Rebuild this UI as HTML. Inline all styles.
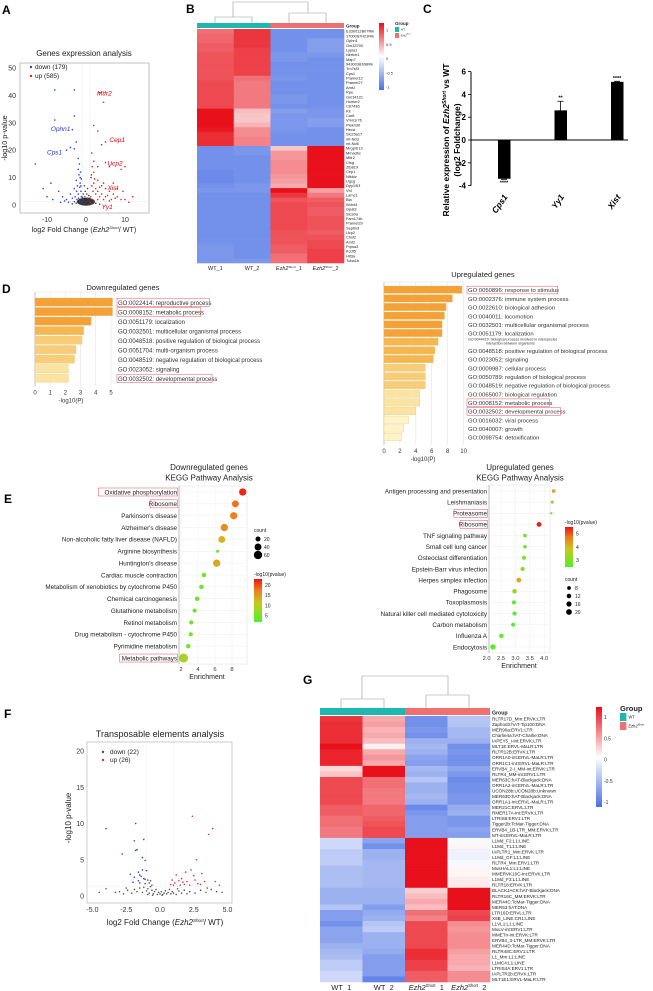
<!DOCTYPE html>
<html><head><meta charset="utf-8"><style>
html,body{margin:0;padding:0;background:#fff;}
svg{display:block;font-family:"Liberation Sans",Arial,sans-serif;}
</style></head><body>
<svg id="fig" width="653" height="991" viewBox="0 0 653 991" xmlns="http://www.w3.org/2000/svg">
<g font-weight="bold" font-size="12" fill="#000">
<text x="2" y="14">A</text>
<text x="186" y="13">B</text>
<text x="423" y="13">C</text>
<text x="2" y="293">D</text>
<text x="4" y="503">E</text>
<text x="4" y="718">F</text>
<text x="303" y="684">G</text>
</g>
</svg>
<script>
const NS='http://www.w3.org/2000/svg';
const svg=document.getElementById('fig');
function mk(tag,a,p){const e=document.createElementNS(NS,tag);for(const k in a)e.setAttribute(k,a[k]);(p||svg).appendChild(e);return e;}
function tx(x,y,s,a,p){const e=mk('text',Object.assign({x:x,y:y},a||{}),p);e.textContent=s;return e;}

// ===== Panel A data =====
const aBlue=[[-8,42],[-3,42],[-8,31],[-3,32.5],[-3.5,27.5],[-2.5,23],[-4,21],[-5,20],[-3,20.5],[-13,15],[-9,8],[-7,5],[-6,3],[-5,2],[-4,4],[-3,6],[-2.5,9],[-2,13],[-1.8,11],[-1.5,8],[-1.3,5],[-1.2,3],[-2,4],[-2.3,2],[-1.6,1.5],[-3,1.2],[-4.5,1],[-5.5,1.5],[-2.8,3],[-1.4,12],[-1.7,15],[-2,17],[-1.2,9.5],[-1.6,6.5],[-2.2,7],[-10,3],[-8.5,2],[-11,6],[-1.1,1.2],[-1.9,2.5],[-1.3,7],[-1.5,10],[-2.4,5],[-3.5,2.5],[-6.5,1]];
const aRed=[[3.5,41],[4.5,37.5],[2,29],[3,27],[5,23],[4,22],[1.5,19],[2,16],[3,14],[6,14],[5,15.5],[10,14],[9,13],[2,12],[1.3,10],[1.5,7],[2,8],[3,9],[4,7],[5,6],[6,5],[7,4],[8,3],[9,2],[10,2],[11,1],[1.2,3],[1.5,2],[2.5,4],[3.5,3],[4.5,2],[5.5,3.5],[6.5,2],[1.8,5],[2.5,6],[3,5],[3.5,6.5],[4,4],[7,8],[8,6],[12,3],[1.1,1],[2,1.3],[6,1.5],[9.5,5],[1.4,11],[2.2,9.5],[4.5,8],[5,3],[3,2],[1.6,14],[7.5,2.5]];
const aGrey=[[-0.8,2],[-0.5,1.5],[0,1],[0.5,1.8],[0.8,2.5],[-0.3,3],[0.2,4],[-0.6,0.5],[0.6,0.4],[1,0.7],[-1,0.8],[0.3,2.5],[-0.2,5],[0.7,3.5],[-0.7,4],[0,0.3],[1.5,0.5],[-1.5,0.4],[2.5,0.6],[-2.5,0.7],[3.5,0.3],[-3.5,0.4],[0.4,6],[-0.4,7],[-0.9,2.8]];
const aLabels=[['Mtfr2',2.8,40,'#d00'],['Ophn1',-9,27,'#2233cc'],['Cps1',-10,18.5,'#2233cc'],['Cep1',6,23,'#d00'],['Ucp2',5.5,14.5,'#d00'],['Xist',5.5,5.5,'#d00'],['Yy1',4,-1.5,'#d00']];
const aYTicks=[0,10,20,30,40,50];
const aXTicks=[-10,0,10];
(function(){
 const g=mk('g',{});
 
 
 const X=v=>86+v*3.9, Y=v=>205-v*2.74;
 const t=tx(84,56,'Genes expression analysis',{'font-size':8,'text-anchor':'middle',fill:'#222'},g);
 
 
 const b=mk('rect',{x:20,y:63,width:129,height:150,fill:'none',stroke:'#999','stroke-width':0.6},g);
 
 
 [X(-1),X(1)].forEach(x=>mk('line',{x1:x,x2:x,y1:63,y2:213,stroke:'#ccc','stroke-width':0.4,'stroke-dasharray':'1,1'},g));
 mk('line',{x1:20,x2:149,y1:Y(1.3),y2:Y(1.3),stroke:'#ccc','stroke-width':0.4,'stroke-dasharray':'1,1'},g);
 aYTicks.forEach(v=>{const e=tx(16,Y(v)+2.5,String(v),{'font-size':7,'text-anchor':'end',fill:'#333'},g);
  
  });
 aXTicks.forEach(v=>{const e=tx(X(v),222,String(v),{'font-size':7,'text-anchor':'middle',fill:'#333'},g);
  
  });
 const xl=tx(84,232,'',{'font-size':7.2,'text-anchor':'middle',fill:'#222'},g);
 xl.innerHTML='log2 Fold Change (<tspan font-style="italic">Ezh2</tspan><tspan font-size="4" dy="-3" font-style="italic">Short</tspan><tspan dy="3">/ WT)</tspan>';
 
 
 const yl=tx(0,0,'-log10 p-value',{'font-size':7.2,'text-anchor':'middle',fill:'#222',transform:'translate(7,138) rotate(-90)'},g);
 
 
 const blob=mk('ellipse',{cx:X(0),cy:Y(1.2),rx:9,ry:4,fill:'#333'},g);
 
 
 aGrey.forEach(p=>{const c=mk('circle',{cx:X(p[0]),cy:Y(p[1]),r:0.8,fill:'#444'},g);
  
  });
 aBlue.forEach(p=>{const c=mk('circle',{cx:X(p[0]),cy:Y(p[1]),r:0.8,fill:'#2a3fd6'},g);
  
  });
 aRed.forEach(p=>{const c=mk('circle',{cx:X(p[0]),cy:Y(p[1]),r:0.8,fill:'#e02020'},g);
  
  });
 aLabels.forEach(l=>{const e=tx(X(l[1]),Y(l[2]),l[0],{'font-size':6.5,'font-style':'italic',fill:l[3]},g);
  
  });
 const lg=[['down (179)','#2a3fd6',69],['up (585)','#e02020',78]];
 lg.forEach(l=>{const c=mk('circle',{cx:31,cy:l[2]-2,r:1.2,fill:l[1]},g);
  
  
  const e=tx(35,l[2],l[0],{'font-size':6.5,fill:'#222'},g);
  
  });
})();

// ===== Heatmap shared =====
function heat(v){
 const lerp=(a,b,t)=>Math.round(a+(b-a)*t);
 if(v>=0){const t=Math.min(1,v/1.25);return `rgb(${lerp(255,232,t)},${lerp(255,16,t)},${lerp(255,26,t)})`;}
 const t=Math.min(1,-v/1.1);return `rgb(${lerp(255,74,t)},${lerp(255,112,t)},${lerp(255,228,t)})`;
}

// ===== Panel B data =====
const bGenes=["E330012B07Rik","1700067H21Rik","Ophn1","Gm33700","Lypla1","Nkrtch1","Map7","9430038J08Rik","Tm7sf3","Cps1","Pramel12","Pramel27","Arnt2","Rpe","Gm34121","Homer2","C87436","Kit","Car8","Vmn1r76","Plekh30","Heca","Slc25a17","mt-Nd3","mt-Nd6","Mrgprb13","Mmadhc","Mtfr2","Ctsg","Zfp819","Cep1","Nfkbiz","Ugcg","Dpy19l3","Vhl","Lamc1","Bla","Wdr44","Gpat3","Slc30a","Fam174b","Pramel29","Septin3","Ucp2","Chst2","Arnt2","Prpsa3","Kcdt5","Hif3a","Tuba1b"];
const bWT1=[0.75,0.8,0.8,0.85,0.85,0.9,0.9,0.9,0.9,0.9,0.9,0.95,0.95,0.95,0.95,0.95,0.95,1.3,1.3,1.3,1.25,1.2,1.1,1.1,1.1,-0.85,-0.85,-0.85,-0.85,-0.85,-0.9,-0.9,-0.9,-0.85,-0.8,-0.85,-0.85,-0.85,-0.85,-0.85,-0.85,-0.85,-0.85,-0.85,-0.85,-0.85,-0.8,-0.8,-0.8,-0.8];
const bWT2=[1.05,1.05,1.05,1.05,1.0,1.0,1.0,1.0,1.0,1.0,0.75,0.7,0.7,0.7,0.7,0.7,0.7,0.35,0.3,0.3,0.4,0.6,0.6,0.65,0.65,-0.8,-0.8,-0.85,-0.85,-0.85,-0.85,-0.85,-0.85,-0.8,-0.8,-0.85,-0.85,-0.85,-0.85,-0.85,-0.85,-0.85,-0.85,-0.85,-0.85,-0.85,-0.85,-0.85,-0.85,-0.8];
const bEz1=[-0.85,-0.85,-0.85,-0.85,-0.85,-0.8,-0.8,-0.85,-0.85,-0.85,-0.8,-0.85,-0.85,-0.85,-0.8,-0.8,-0.85,-0.75,-0.8,-0.8,-0.8,-0.8,-0.85,-0.85,-0.85,0.3,0.55,0.55,0.6,0.6,0.6,0.55,0.5,0.45,1.3,1.05,0.9,0.95,0.95,0.95,0.95,0.95,0.95,0.9,0.9,0.9,0.85,0.85,0.75,0.75];
const bEz2=[-0.85,-0.85,-0.75,-0.75,-0.75,-0.8,-0.85,-0.85,-0.85,-0.85,-0.85,-0.85,-0.85,-0.85,-0.85,-0.85,-0.85,-0.8,-0.8,-0.75,-0.75,-0.85,-0.85,-0.85,-0.85,1.3,1.3,1.3,1.3,1.3,1.3,1.3,1.3,1.3,0.5,0.7,0.85,0.9,0.85,0.85,0.9,0.9,0.9,0.85,0.9,0.95,0.95,1.0,1.0,1.0];
const bCols=["WT_1","WT_2","Ezh2","Ezh2"];
const scaleTicks=[1,0.5,0,-0.5,-1];
function drawHeat(cfg){
 const g=mk('g',{});
 
 
 const n=cfg.rows.length, rh=(cfg.y1-cfg.y0)/n, cw=(cfg.x1-cfg.x0)/4;
 // dendrogram
 const d=mk('path',{d:cfg.dendro,fill:'none',stroke:'#999','stroke-width':0.6},g);
 
 
 const gb1=mk('rect',{x:cfg.x0,y:cfg.gy,width:2*cw,height:cfg.gh,fill:'#1fb8b0'},g);
 
 
 const gb2=mk('rect',{x:cfg.x0+2*cw,y:cfg.gy,width:2*cw,height:cfg.gh,fill:'#f07070'},g);
 
 
 const gt=tx(cfg.x1+2,cfg.gy+cfg.gh-0.5,'Group',{'font-size':cfg.fs+0.6,'font-weight':'bold',fill:'#222'},g);
 
 
 cfg.cols.forEach((col,ci)=>{col.forEach((v,ri)=>{
  const r=mk('rect',{x:cfg.x0+ci*cw,y:cfg.y0+ri*rh,width:cw+0.3,height:rh+0.3,fill:heat(v)},g);
  
  });});
 cfg.rows.forEach((s,ri)=>{const e=tx(cfg.x1+2,cfg.y0+(ri+0.8)*rh,s,{'font-size':cfg.fs,fill:'#222'},g);
  
  });
 bCols.forEach((s,ci)=>{const e=tx(cfg.x0+(ci+0.5)*cw,cfg.cy,'',{'font-size':cfg.cfs,'text-anchor':'middle',fill:'#222'},g);
  if(ci<2)e.textContent=s;else e.innerHTML=`<tspan font-style="italic">Ezh2</tspan><tspan font-size="${cfg.cfs*0.55}" dy="-${cfg.cfs*0.4}">Short</tspan><tspan dy="${cfg.cfs*0.4}">_${ci-1}</tspan>`;
  
  });
 // color scale
 const gid=cfg.name+'-grad';
 const defs=mk('defs',{},g);const lgd=mk('linearGradient',{id:gid,x1:0,y1:0,x2:0,y2:1},defs);
 [[0,1.25],[0.5,0],[1,-1.1]].forEach(s=>mk('stop',{offset:s[0],'stop-color':heat(s[1])},lgd));
 const sb=mk('rect',{x:cfg.sx,y:cfg.sy0,width:cfg.sw,height:cfg.sy1-cfg.sy0,fill:`url(#${gid})`},g);
 
 
 const sY=v=>cfg.sy0+(cfg.sy1-cfg.sy0)*(1.25-v)/2.35;
 scaleTicks.forEach(v=>{const e=tx(cfg.sx+cfg.sw+2,sY(v)+1.5,String(v),{'font-size':cfg.sfs,fill:'#333'},g);
  
  });
 const lt=tx(cfg.lx,cfg.ly,'Group',{'font-size':cfg.lfs,'font-weight':'bold',fill:'#222'},g);
 
 
 [['#1fb8b0','WT',0],['#f07070','Ezh2',1]].forEach(l=>{
  const r=mk('rect',{x:cfg.lx,y:cfg.ly+2+l[2]*(cfg.lsw+1),width:cfg.lsw*0.8,height:cfg.lsw,fill:l[0]},g);
  
  
  const e=tx(cfg.lx+cfg.lsw*0.8+2,cfg.ly+2+l[2]*(cfg.lsw+1)+cfg.lsw*0.7,'',{'font-size':cfg.lfs*0.55,fill:'#222'},g);
  e.innerHTML=l[2]?'<tspan font-style="italic">Ezh2</tspan><tspan font-size="'+cfg.lfs*0.35+'" dy="-2">Short</tspan>':'WT';
  
  });
}
drawHeat({name:'heatmap-genes',rows:bGenes,cols:[bWT1,bWT2,bEz1,bEz2],x0:197,x1:344,y0:29,y1:263,gy:23,gh:5,
 dendro:'M215,23 V17 H252 V23 M233,17 V2 H308 V13 M289,23 V13 H326 V23',fs:3.9,cfs:5.5,cy:270,
 sx:379,sw:5,sy0:23,sy1:90,sfs:4,lx:395,ly:25,lfs:4.5,lsw:5});

// ===== Panel C data =====
const cGenes=['Cps1','Yy1','Xist'];
const cVals=[-3.4,2.6,5.1];
const cErr=[0.05,0.8,0.05];
const cStars=['****','**','****'];
const cTicks=[-4,-2,0,2,4,6];
(function(){
 const g=mk('g',{});
 
 
 const Y=v=>140-v*11.4;
 const ax=mk('line',{x1:471,x2:471,y1:Y(6),y2:Y(-4),stroke:'#000','stroke-width':1},g);
 
 
 const zx=mk('line',{x1:471,x2:628,y1:Y(0),y2:Y(0),stroke:'#000','stroke-width':0.9},g);
 
 
 cTicks.forEach(v=>{mk('line',{x1:468,x2:471,y1:Y(v),y2:Y(v),stroke:'#000','stroke-width':0.8},g);
  const e=tx(466,Y(v)+3,String(v),{'font-size':8,'font-weight':'bold','text-anchor':'end'},g);
  
  });
 cGenes.forEach((s,i)=>{const cx=504+i*56.5, v=cVals[i];
  const r=mk('rect',{x:cx-6,y:Math.min(Y(0),Y(v)),width:12.5,height:Math.abs(Y(v)-Y(0)),fill:'#000'},g);
  
  
  const tip=v+Math.sign(v)*cErr[i];
  const eb=mk('path',{d:`M${cx},${Y(v)} V${Y(tip)} M${cx-3},${Y(tip)} H${cx+3}`,stroke:'#000','stroke-width':0.8},g);
  
  
  const sy=v<0?Y(tip)+5:Y(tip)-1.5;
  const st=tx(cx,sy,cStars[i],{'font-size':5.5,'font-weight':'bold','text-anchor':'middle'},g);
  
  
  const lb=tx(0,0,s,{'font-size':8.5,'font-weight':'bold','font-style':'italic','text-anchor':'end',transform:`translate(${cx+4},${197}) rotate(-55)`},g);
  
  });
 const y1=tx(0,0,'',{'font-size':8.5,'font-weight':'bold','text-anchor':'middle',transform:'translate(449,140) rotate(-90)'},g);
 y1.innerHTML='Relative expression of <tspan font-style="italic">Ezh2</tspan><tspan font-size="5" dy="-3" font-style="italic">Short</tspan><tspan dy="3"> vs WT</tspan>';
 
 
 const y2=tx(0,0,'(log2 Foldchange)',{'font-size':8.5,'font-weight':'bold','text-anchor':'middle',transform:'translate(460,140) rotate(-90)'},g);
 
 
})();

// ===== Panel D data =====
const dDownTerms=['GO:0022414: reproductive process','GO:0008152: metabolic process','GO:0051179: localization','GO:0032501: multicellular organismal process','GO:0048518: positive regulation of biological process','GO:0051704: multi-organism process','GO:0048519: negative regulation of biological process','GO:0023052: signaling','GO:0032502: developmental process'];
const dDownVals=[5.1,5.1,3.7,3.2,3.1,2.7,2.6,2.2,2.2];
const dDownBoxed=[1,1,0,0,0,0,0,0,1];
const dDownTicks=[0,1,2,3,4,5];
const dUpTerms=['GO:0050896: response to stimulus','GO:0002376: immune system process','GO:0022610: biological adhesion','GO:0040011: locomotion','GO:0032501: multicellular organismal process','GO:0051179: localization','GO:0044419: biological process involved in interspecies interaction between organisms','GO:0048518: positive regulation of biological process','GO:0023052: signaling','GO:0009987: cellular process','GO:0050789: regulation of biological process','GO:0048519: negative regulation of biological process','GO:0065007: biological regulation','GO:0008152: metabolic process','GO:0032502: developmental process','GO:0016032: viral process','GO:0040007: growth','GO:0098754: detoxification'];
const dUpVals=[9.8,8.6,7.8,7.6,7.3,7.3,6.8,6.4,6.2,5.2,5.2,5.2,4.5,4.5,4.0,3.1,2.5,2.2];
const dUpBoxed=[1,0,0,0,0,0,0,0,0,0,0,0,0,1,1,0,0,0];
const dUpTicks=[0,2,4,6,8,10];
function goColor(v,max){const r=v/max;if(r>0.72)return '#f4a238';if(r>0.62)return '#f6b650';if(r>0.5)return '#f8cd78';if(r>0.4)return '#fbe3a2';return '#fdf3c8';}
function drawGO(c){
 const g=mk('g',{});
 
 
 const X=v=>c.x0+v*c.ppu, n=c.terms.length, yb=c.y0+n*c.sp+3;
 const t=tx(c.tx,c.ty,c.title,{'font-size':7.5,'text-anchor':'middle',fill:'#222'},g);
 
 
 c.ticks.forEach(v=>{mk('line',{x1:X(v),x2:X(v),y1:c.top,y2:yb,stroke:'#ddd','stroke-width':0.5},g);
  const e=tx(X(v),yb+8,String(v),{'font-size':6,'text-anchor':'middle',fill:'#333'},g);
  
  });
 mk('line',{x1:c.x0,x2:c.x0,y1:c.top,y2:yb,stroke:'#aaa','stroke-width':0.6},g);
 mk('line',{x1:c.x0,x2:X(c.ticks[c.ticks.length-1]),y1:c.top,y2:c.top,stroke:'#ddd','stroke-width':0.5},g);
 c.terms.forEach((s,i)=>{const y=c.y0+i*c.sp;
  const r=mk('rect',{x:c.x0,y:y,width:X(c.vals[i])-c.x0,height:c.sp-1.3,fill:goColor(c.vals[i],c.max),stroke:'#e6c070','stroke-width':0.3},g);
  
  
  const small=s.length>70;
  let e;
  if(small){e=tx(c.lx,y+2.5,'GO:0044419: biological process involved in interspecies',{'font-size':3.6,fill:'#333'},g);
   const e2=tx(c.lx+18,y+6.5,'interaction between organisms',{'font-size':3.6,fill:'#333'},g);
   
   }
  else e=tx(c.lx,y+c.sp*0.72,s,{'font-size':c.fs,fill:'#333'},g);
  
  
  if(c.boxed[i]){const bx=mk('rect',{x:c.lx-1,y:y+0.2,width:s.length*c.fs*0.47+2,height:c.sp-1,fill:'none',stroke:'#e05060','stroke-width':0.5},g);
   
   }
 });
 const xl=tx(c.xlx,yb+16,'-log10(P)',{'font-size':6,'text-anchor':'middle',fill:'#333'},g);
 
 
}
drawGO({name:'go-downregulated',terms:dDownTerms,vals:dDownVals,boxed:dDownBoxed,ticks:dDownTicks,max:5.1,x0:35,ppu:15.2,top:292,y0:298,sp:9.5,lx:118,fs:6,tx:123,ty:290,title:'Downregulated genes',xlx:71});
drawGO({name:'go-upregulated',terms:dUpTerms,vals:dUpVals,boxed:dUpBoxed,ticks:dUpTicks,max:9.8,x0:384,ppu:7.96,top:282,y0:286,sp:8.67,lx:468,fs:5.9,tx:483,ty:277,title:'Upregulated genes',xlx:423});

// ===== Panel E data =====
const eDownPaths=['Oxidative phosphorylation','Ribosome','Parkinson\'s disease','Alzheimer\'s disease','Non-alcoholic fatty liver disease (NAFLD)','Arginine biosynthesis','Huntington\'s disease','Cardiac muscle contraction','Metabolism of xenobiotics by cytochrome P450','Chemical carcinogenesis','Glutathione metabolism','Retinol metabolism','Drug metabolism - cytochrome P450','Pyrimidine metabolism','Metabolic pathways'];
const eDownEnrich=[9.26,8.4,8.2,7.1,6.8,6.3,6.2,4.7,4.4,3.9,3.6,3.2,3.15,2.85,2.3];
const eDownCount=[45,40,45,45,40,6,45,15,15,15,12,12,12,15,70];
const eDownP=[22,18,17,16,13,3,14,4,4,4,4,4,4,4,9];
const eDownBoxed=[1,1,0,0,0,0,0,0,0,0,0,0,0,0,1];
const eDownTicks=[2,4,6,8];
const eUpPaths=['Antigen processing and presentation','Leishmaniasis','Proteasome','Ribosome','TNF signaling pathway','Small cell lung cancer','Osteoclast differentiation','Epstein-Barr virus infection','Herpes simplex infection','Phagosome','Toxoplasmosis','Natural killer cell mediated cytotoxicity','Carbon metabolism','Influenza A','Endocytosis'];
const eUpEnrich=[4.33,4.28,4.25,3.82,3.33,3.33,3.3,3.25,3.12,2.97,2.95,2.97,2.92,2.51,2.22];
const eUpCount=[8,6,3,14,8,7,9,10,14,12,10,10,9,12,18];
const eUpP=[4.2,3.3,2.6,5.4,2.7,2.6,3.0,3.2,4.2,3.3,2.6,2.5,2.5,2.6,2.5];
const eUpBoxed=[0,0,1,1,0,0,0,0,0,0,0,0,0,0,0];
const eUpTicks=[2.0,2.5,3.0,3.5,4.0];
function pcol(t){ // t 0..1 green->yellow->orange->red
 const st=[[0,[80,240,40]],[0.45,[200,200,30]],[0.75,[240,120,30]],[1,[235,20,20]]];
 t=Math.max(0,Math.min(1,t));for(let i=1;i<st.length;i++){if(t<=st[i][0]){const a=st[i-1],b=st[i],u=(t-a[0])/(b[0]-a[0]);
  return `rgb(${a[1].map((c,k)=>Math.round(c+(b[1][k]-c)*u)).join(',')})`;}}return 'rgb(235,20,20)';}
function drawKegg(c){
 const g=mk('g',{});
 
 
 const X=v=>c.x0+(v-c.vmin)*c.ppu, Y=i=>c.y0+i*c.sp;
 [c.t1,'KEGG Pathway Analysis'].forEach((s,i)=>{const e=tx(c.tx,c.ty+i*10.5,s,{'font-size':8,'text-anchor':'middle',fill:'#222'},g);
  
  });
 const yb=Y(c.paths.length-1)+6;
 const bg=mk('rect',{x:c.px0,y:c.top,width:c.px1-c.px0,height:yb-c.top,fill:'#fff',stroke:'#ddd','stroke-width':0.5},g);
 
 
 c.ticks.forEach(v=>{mk('line',{x1:X(v),x2:X(v),y1:c.top,y2:yb,stroke:'#eee','stroke-width':0.5},g);
  const e=tx(X(v),yb+7,c.fmt(v),{'font-size':5.8,'text-anchor':'middle',fill:'#333'},g);
  
  });
 mk('line',{x1:c.px0,x2:c.px0,y1:c.top,y2:yb,stroke:'#888','stroke-width':0.5},g);
 c.paths.forEach((s,i)=>{mk('line',{x1:c.px0,x2:c.px1,y1:Y(i),y2:Y(i),stroke:'#eee','stroke-width':0.5},g);
  const e=tx(c.px0-2,Y(i)+2.3,s,{'font-size':6.3,'text-anchor':'end',fill:'#222'},g);
  
  
  if(c.boxed[i]){const w=s.length*3.05+3;const b=mk('rect',{x:c.px0-1.5-w,y:Y(i)-4,width:w,height:8,fill:'none',stroke:'#e05060','stroke-width':0.5},g);
   
   }
  const d=mk('circle',{cx:X(c.enrich[i]),cy:Y(i),r:c.rf(c.count[i]),fill:pcol((c.p[i]-c.pmin)/(c.pmax-c.pmin))},g);
  
  });
 const xl=tx(c.xlx,yb+15,'Enrichment',{'font-size':7,'text-anchor':'middle',fill:'#222'},g);
 
 
 // legends
 const ct=tx(c.cl[0],c.cl[1],'count',{'font-size':5,fill:'#222'},g);
 
 
 c.cvals.forEach((v,i)=>{const y=c.cl[1]+7+i*8;const d=mk('circle',{cx:c.cl[0]+4,cy:y,r:c.rf(v),fill:'#000'},g);
  
  
  const e=tx(c.cl[0]+10,y+1.8,String(v),{'font-size':5,fill:'#222'},g);
  
  });
 const pt=tx(c.pl[0],c.pl[1],'-log10(pvalue)',{'font-size':5,fill:'#222'},g);
 
 
 const gid=c.name+'-grad';const defs=mk('defs',{},g);const lg=mk('linearGradient',{id:gid,x1:0,y1:0,x2:0,y2:1},defs);
 [0,0.25,0.55,1].forEach(o=>mk('stop',{offset:o,'stop-color':pcol(1-o)},lg));
 const cb=mk('rect',{x:c.pl[0],y:c.pl[1]+3,width:8,height:c.ph,fill:`url(#${gid})`},g);
 
 
 c.pt.forEach(v=>{const y=c.pl[1]+3+c.ph*(c.pmax-v)/(c.pmax-c.pmin);const e=tx(c.pl[0]+11,y+1.8,String(v),{'font-size':5,fill:'#222'},g);
  
  });
}
drawKegg({name:'kegg-downregulated',paths:eDownPaths,enrich:eDownEnrich,count:eDownCount,p:eDownP,boxed:eDownBoxed,ticks:eDownTicks,
 vmin:2,x0:181,ppu:8.5,y0:492,sp:11.86,px0:179,px1:247,top:486,tx:209,ty:470,t1:'Downregulated genes',xlx:207,
 rf:v=>0.5*Math.sqrt(v)+0.3,pmin:2,pmax:23,fmt:v=>String(v),cl:[254,532],cvals:[20,40,60],pl:[254,576],ph:43,pt:[20,15,10,5]});
drawKegg({name:'kegg-upregulated',paths:eUpPaths,enrich:eUpEnrich,count:eUpCount,p:eUpP,boxed:eUpBoxed,ticks:eUpTicks,
 vmin:2,x0:486.6,ppu:28.8,y0:491,sp:11.14,px0:489,px1:550,top:485,tx:520,ty:470,t1:'Upregulated genes',xlx:519,
 rf:v=>0.62*Math.sqrt(v)+0.1,pmin:2.5,pmax:5.5,fmt:v=>v.toFixed(1),cl:[565,581],cvals:[8,12,16,20],pl:[565,524],ph:40,pt:[5,4,3]});

// ===== Panel F data =====
const fBlue=[[-2.2,3],[-1.9,2.6],[-1.8,10],[-1.9,7.6],[-1.7,6.4],[-1.8,6.3],[-1.2,7.8],[-4,9.3],[-1.3,5.3],[-1.1,4.9],[-1.6,3.3],[-1.5,2.9],[-1.3,3.6],[-1.4,2.7],[-2.8,5.8],[-1.0,3.5],[-1.2,2.4],[-1.6,2.1],[-0.9,2.2],[-1.5,1.8],[-2.0,1.9],[-1.1,1.7]];
const fRed=[[2.4,11],[3.9,9.3],[3.6,8.5],[2.7,5],[2.3,3.6],[1.9,3.3],[3.1,3.1],[1.2,2.9],[1.6,2.4],[1.4,2.1],[2.0,2.0],[2.6,2.2],[1.1,1.8],[1.8,1.6],[0.9,2.2],[1.5,1.5],[3.3,2.0],[2.8,1.7],[2.2,1.5],[4.1,2.0],[4.4,1.5],[1.0,1.5],[2.5,2.8],[3.0,1.6],[1.7,1.9],[0.8,1.6]];
const fGrey=[[-4.5,0.5],[-4,1],[-3.3,0.5],[-3,0.6],[-2.7,0.3],[-2.4,0.8],[-2.1,0.4],[-1.9,0.9],[-1.7,0.6],[-1.5,1.1],[-1.3,0.5],[-1.2,1.2],[-1.0,0.7],[-0.9,1.0],[-0.8,0.4],[-0.7,1.3],[-0.6,0.8],[-0.5,0.3],[-0.4,0.6],[-0.3,0.9],[-0.2,0.2],[-0.1,0.5],[0,0.3],[0.1,0.6],[0.2,0.2],[0.3,0.4],[0.4,0.7],[0.5,0.3],[0.6,0.5],[0.7,0.9],[0.8,0.3],[0.9,0.6],[1.0,0.4],[1.2,0.2],[1.4,0.7],[1.6,0.4],[1.8,0.8],[2.0,0.3],[2.2,0.6],[2.6,0.4],[3.0,0.8],[3.4,0.5],[3.8,0.9],[4.2,0.6],[4.6,0.5],[-0.8,1.8],[-0.6,1.5],[-0.9,0.2],[-0.55,0.1],[0.15,0.1],[-1.1,2.3],[-0.7,2.1],[1.3,1.0],[-2.5,1.1],[3.5,1.1]];
const fYTicks=[0,5,10,15,20];
const fXTicks=[-5,-2.5,0,2.5,5];
(function(){
 const g=mk('g',{});
 
 
 const X=v=>160+v*13.5, Y=v=>896-v*7.25;
 const t=tx(160,737,'Transposable elements analysis',{'font-size':9,'text-anchor':'middle',fill:'#222'},g);
 
 
 const b=mk('rect',{x:87,y:742,width:145,height:161,fill:'none',stroke:'#aaa','stroke-width':0.6},g);
 
 
 [X(-1),X(1)].forEach(x=>mk('line',{x1:x,x2:x,y1:742,y2:903,stroke:'#ddd','stroke-width':0.4,'stroke-dasharray':'1,1'},g));
 mk('line',{x1:87,x2:232,y1:Y(1.3),y2:Y(1.3),stroke:'#ddd','stroke-width':0.4,'stroke-dasharray':'1,1'},g);
 fYTicks.forEach(v=>{const e=tx(84,Y(v)+2.5,String(v),{'font-size':7,'text-anchor':'end',fill:'#333'},g);
  
  });
 fXTicks.forEach(v=>{const e=tx(X(v),912,v.toFixed(1),{'font-size':7,'text-anchor':'middle',fill:'#333'},g);
  
  });
 const xl=tx(165,925,'',{'font-size':8,'text-anchor':'middle',fill:'#222'},g);
 xl.innerHTML='log2 Fold Change (<tspan font-style="italic">Ezh2</tspan><tspan font-size="4.5" dy="-3" font-style="italic">Short</tspan><tspan dy="3">/ WT)</tspan>';
 
 
 const yl=tx(0,0,'-log10 p-value',{'font-size':8,'text-anchor':'middle',fill:'#222',transform:'translate(71,818) rotate(-90)'},g);
 
 
 fGrey.forEach(p=>{const c=mk('circle',{cx:X(p[0]),cy:Y(p[1]),r:0.8,fill:'#555'},g);
  
  });
 fBlue.forEach(p=>{const c=mk('circle',{cx:X(p[0]),cy:Y(p[1]),r:0.8,fill:'#3040d0'},g);
  
  });
 fRed.forEach(p=>{const c=mk('circle',{cx:X(p[0]),cy:Y(p[1]),r:0.8,fill:'#e03030'},g);
  
  });
 [['down (22)','#3040d0',754],['up (26)','#e03030',762]].forEach(l=>{
  const c=mk('circle',{cx:103,cy:l[2]-2,r:1.2,fill:l[1]},g);
  
  
  const e=tx(110,l[2],l[0],{'font-size':6.5,fill:'#222'},g);
  
  });
})();

// ===== Panel G data =====
const gTEs=["RLTR17D_Mm:ERVK:LTR","Zaphod2:hAT-Tip100:DNA","MER90a:ERV1:LTR","Charlie4a:hAT-Charlie:DNA","IAPEY5_I-int:ERVK:LTR","MLT1E:ERVL-MaLR:LTR","RLTR12B:ERVK:LTR","ORR1A0-int:ERVL-MaLR:LTR","ORR1C1-int:ERVL-MaLR:LTR","ERVB4_2-I_MM-int:ERVK:LTR","RLTR4_MM-int:ERV1:LTR","MER63C:hAT-Blackjack:DNA","ORR1A2-int:ERVL-MaLR:LTR","UCON28b:UCON28b:Unknown","MER63D:hAT-Blackjack:DNA","ORR1A1-int:ERVL-MaLR:LTR","MER21C:ERVL:LTR","RMER17A-int:ERVK:LTR","LTRIS6:ERV1:LTR","Tigger2b:TcMar-Tigger:DNA","ERVB4_1B-LTR_MM:ERVK:LTR","MT-int:ERVL-MaLR:LTR","L1Md_F2:L1:LINE","L1Md_T:L1:LINE","IAPLTR1_Mm:ERVK:LTR","L1Md_GF:L1:LINE","RLTR4_Mm:ERV1:LTR","MusHAL1:L1:LINE","MMERVK10C-int:ERVK:LTR","L1Md_F3:L1:LINE","RLTR18:ERVK:LTR","BLACKJACK:hAT-Blackjack:DNA","RLTR16C_MM:ERVK:LTR","MER44C:TcMar-Tigger:DNA","MER53:hAT:DNA","LTR16D:ERVL:LTR","X6B_LINE:CR1:LINE","L1VL1:L1:LINE","MuLV-int:ERV1:LTR","MMETn-int:ERVK:LTR","ERVB4_3-LTR_MM:ERVK:LTR","MER44D:TcMar-Tigger:DNA","RLTR48C:ERV1:LTR","L1_Mm:L1:LINE","L1MC4:L1:LINE","LTRIS4A:ERV1:LTR","IAPLTR2b:ERVK:LTR","MLT1E1:ERVL-MaLR:LTR"];
const gWT1=[1.05,1.1,1.1,1.1,1.1,1.25,1.15,1.15,1.15,0.2,0.3,0.95,0.95,0.95,0.95,0.95,0.85,0.85,0.75,0.75,0.7,0.7,-0.3,-0.3,-0.4,-0.4,-0.4,-0.5,-0.5,-0.5,-0.5,-0.6,-0.6,-0.6,-0.45,-0.75,-0.75,-0.85,-0.7,-0.7,-0.7,-0.6,-0.55,-0.5,-0.4,-0.4,-0.3,-0.3];
const gWT2=[0.45,0.5,0.4,0.45,0.35,0.08,0.45,0.55,0.45,1.3,1.3,0.75,0.75,0.7,0.7,0.7,0.8,0.8,0.85,0.9,0.95,0.95,-0.7,-0.85,-0.6,-0.6,-0.55,-0.55,-0.55,-0.55,-0.55,-0.6,-0.6,-0.6,-0.75,-0.65,-0.6,-0.45,-0.4,-0.6,-0.6,-0.6,-0.65,-0.75,-0.75,-0.75,-0.75,-0.95];
const gEz1=[-0.85,-0.85,-0.8,-0.85,-0.6,-0.55,-0.6,-0.7,-0.75,-0.55,-0.6,-0.45,-0.6,-0.6,-0.55,-0.6,-0.9,-0.8,-0.75,-0.75,-0.75,-0.75,1.3,1.3,1.3,1.3,1.3,1.3,1.3,1.3,1.3,0.25,0.35,0.45,0.35,0.75,0.65,0.95,0.95,0.95,0.95,0.95,1.1,1.1,1.0,1.0,0.85,0.85];
const gEz2=[-0.45,-0.45,-0.55,-0.55,-0.6,-0.85,-0.8,-0.85,-0.85,-0.7,-0.8,-0.9,-0.85,-0.85,-0.8,-0.8,-0.65,-0.6,-0.8,-0.8,-0.7,-0.75,-0.05,0.05,-0.1,-0.1,-0.05,0.05,0.05,0.1,0.1,1.3,1.3,1.3,1.3,0.95,1.0,0.6,0.55,0.6,0.6,0.6,0.5,0.45,0.45,0.4,0.6,0.6];
drawHeat({name:'heatmap-transposable-elements',rows:gTEs,cols:[gWT1,gWT2,gEz1,gEz2],x0:320,x1:490,y0:716,y1:982,gy:708,gh:7,
 dendro:'M341,708 V699 H384 V708 M362,699 V676 H448 V695 M426,708 V695 H469 V708',fs:4.6,cfs:7.5,cy:990,
 sx:596,sw:6,sy0:707,sy1:807,sfs:5,lx:620,ly:711,lfs:7.5,lsw:8});
</script>
</body></html>
